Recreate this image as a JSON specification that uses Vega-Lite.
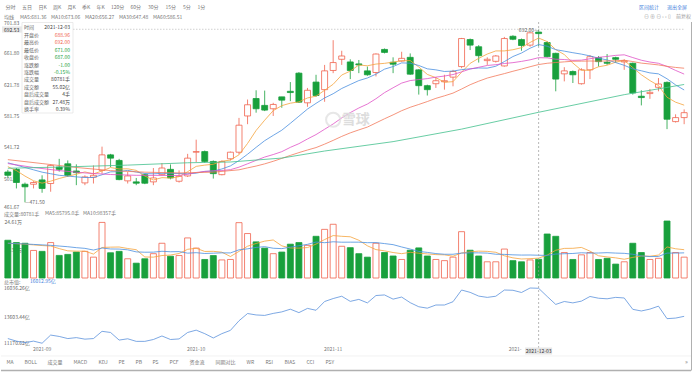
{
"$schema": "https://vega.github.io/schema/vega-lite/v6.json",
"background": "white",
"padding": 0,
"bounds": "flush",
"spacing": 0,
"config": {
  "view": {"stroke": null},
  "font": "Noto Sans CJK SC",
  "axis": {"labelFont": "Noto Sans CJK SC", "labelFontSize": 5, "labelColor": "#666666", "ticks": false, "tickSize": 0, "domain": false, "grid": false, "title": null, "labelOverlap": false},
  "legend": {"labelFont": "Noto Sans CJK SC", "titleFont": "Noto Sans CJK SC", "labelFontSize": 5, "titleFontSize": 5, "titleFontWeight": "normal", "titleColor": "#777777", "labelColor": "#777777", "padding": 0, "symbolSize": 0, "symbolStrokeWidth": 0, "symbolOpacity": 0, "labelOffset": -5.5, "orient": "none", "direction": "horizontal", "columns": 20, "rowPadding": 0, "titleOrient": "left", "titlePadding": 5, "gridAlign": "each"}
},
"resolve": {"scale": {"color": "independent"}, "legend": {"color": "independent"}},
"datasets": {
"one": [{}],
"pticks": [{"p":461.67},{"p":501.7},{"p":541.72},{"p":581.75},{"p":621.78},{"p":661.8},{"p":701.83}],
"cticks": [{"p":11170.62,"t":"11170.62亿"},{"p":13603.44,"t":"13603.44亿"},{"p":16036.26,"t":"16036.26亿"}],
"k": [
{"d":"2021-08-30","o":510.2,"h":513.0,"l":503.0,"c":506.0,"v":163000,"cap":11794.4},
{"d":"2021-08-31","o":513.6,"h":515.3,"l":489.2,"c":496.8,"v":153000,"cap":11579.9},
{"d":"2021-09-01","o":494.6,"h":496.7,"l":471.5,"c":491.3,"v":150000,"cap":11451.7},
{"d":"2021-09-02","o":494.6,"h":498.4,"l":489.2,"c":496.8,"v":119000,"cap":11579.9},
{"d":"2021-09-03","o":500.1,"h":506.0,"l":483.7,"c":489.2,"v":115000,"cap":11402.8},
{"d":"2021-09-06","o":495.5,"h":519.5,"l":485.0,"c":518.6,"v":153000,"cap":12088.0},
{"d":"2021-09-07","o":516.5,"h":527.0,"l":510.7,"c":513.6,"v":97500,"cap":11971.5},
{"d":"2021-09-08","o":520.7,"h":525.0,"l":503.9,"c":506.0,"v":102000,"cap":11794.4},
{"d":"2021-09-09","o":511.5,"h":520.0,"l":493.4,"c":509.4,"v":112000,"cap":11873.6},
{"d":"2021-09-10","o":496.3,"h":506.0,"l":493.4,"c":503.9,"v":115000,"cap":11745.4},
{"d":"2021-09-13","o":503.5,"h":518.6,"l":495.5,"c":506.0,"v":90000,"cap":11794.4},
{"d":"2021-09-14","o":512.3,"h":542.6,"l":508.1,"c":532.1,"v":240000,"cap":12402.7},
{"d":"2021-09-15","o":532.1,"h":533.4,"l":516.5,"c":527.9,"v":109000,"cap":12304.8},
{"d":"2021-09-16","o":525.0,"h":527.0,"l":499.7,"c":500.5,"v":115000,"cap":11666.2},
{"d":"2021-09-17","o":498.9,"h":510.2,"l":495.5,"c":505.2,"v":83000,"cap":11775.7},
{"d":"2021-09-22","o":497.6,"h":502.6,"l":493.4,"c":495.9,"v":64000,"cap":11558.9},
{"d":"2021-09-23","o":506.8,"h":508.1,"l":494.7,"c":495.9,"v":83000,"cap":11558.9},
{"d":"2021-09-24","o":497.6,"h":515.3,"l":493.4,"c":502.6,"v":105000,"cap":11715.1},
{"d":"2021-09-27","o":506.8,"h":521.6,"l":506.0,"c":515.3,"v":150000,"cap":12011.1},
{"d":"2021-09-28","o":513.6,"h":519.9,"l":500.9,"c":502.6,"v":94000,"cap":11715.1},
{"d":"2021-09-29","o":498.4,"h":512.3,"l":496.7,"c":504.7,"v":97000,"cap":11764.1},
{"d":"2021-09-30","o":505.2,"h":533.4,"l":503.9,"c":527.9,"v":173000,"cap":12304.8},
{"d":"2021-10-08","o":535.5,"h":551.5,"l":522.9,"c":536.3,"v":129000,"cap":12500.6},
{"d":"2021-10-11","o":536.3,"h":537.6,"l":522.0,"c":523.7,"v":80000,"cap":12206.9},
{"d":"2021-10-12","o":523.7,"h":525.0,"l":501.8,"c":508.1,"v":97000,"cap":11843.3},
{"d":"2021-10-13","o":506.8,"h":525.0,"l":506.0,"c":523.7,"v":78000,"cap":12206.9},
{"d":"2021-10-14","o":527.1,"h":536.3,"l":525.0,"c":535.5,"v":80000,"cap":12482.0},
{"d":"2021-10-15","o":535.5,"h":579.3,"l":533.0,"c":570.0,"v":239000,"cap":13286.1},
{"d":"2021-10-18","o":581.8,"h":602.8,"l":571.3,"c":596.1,"v":192000,"cap":13894.5},
{"d":"2021-10-19","o":604.1,"h":614.6,"l":586.0,"c":591.0,"v":156000,"cap":13775.6},
{"d":"2021-10-20","o":595.3,"h":614.2,"l":588.0,"c":589.3,"v":129000,"cap":13736.0},
{"d":"2021-10-21","o":591.0,"h":598.6,"l":581.8,"c":596.5,"v":105000,"cap":13903.8},
{"d":"2021-10-22","o":606.2,"h":606.2,"l":592.3,"c":602.0,"v":112000,"cap":14032.0},
{"d":"2021-10-25","o":613.3,"h":625.1,"l":600.7,"c":611.7,"v":146000,"cap":14258.1},
{"d":"2021-10-26","o":636.5,"h":637.8,"l":598.6,"c":599.4,"v":153000,"cap":13971.4},
{"d":"2021-10-27","o":598.6,"h":617.6,"l":593.5,"c":614.6,"v":141000,"cap":14325.7},
{"d":"2021-10-28","o":625.1,"h":634.4,"l":606.2,"c":607.9,"v":180000,"cap":14169.5},
{"d":"2021-10-29","o":615.4,"h":647.0,"l":599.9,"c":639.4,"v":210000,"cap":14903.8},
{"d":"2021-11-01","o":639.9,"h":678.6,"l":636.5,"c":650.0,"v":232000,"cap":15150.9},
{"d":"2021-11-02","o":654.2,"h":665.1,"l":647.0,"c":658.4,"v":137000,"cap":15346.6},
{"d":"2021-11-03","o":650.8,"h":654.2,"l":628.9,"c":639.9,"v":131000,"cap":14915.4},
{"d":"2021-11-04","o":648.3,"h":653.3,"l":636.5,"c":647.0,"v":105000,"cap":15080.9},
{"d":"2021-11-05","o":639.4,"h":644.9,"l":633.1,"c":634.4,"v":90000,"cap":14787.2},
{"d":"2021-11-08","o":637.3,"h":661.7,"l":632.3,"c":660.9,"v":150000,"cap":15404.9},
{"d":"2021-11-09","o":666.8,"h":668.0,"l":661.7,"c":663.0,"v":110000,"cap":15453.9},
{"d":"2021-11-10","o":650.4,"h":656.7,"l":636.5,"c":647.9,"v":95000,"cap":15101.9},
{"d":"2021-11-11","o":652.0,"h":663.8,"l":651.2,"c":655.4,"v":80000,"cap":15276.7},
{"d":"2021-11-12","o":656.7,"h":661.7,"l":634.4,"c":635.2,"v":120000,"cap":14805.9},
{"d":"2021-11-15","o":640.7,"h":641.5,"l":609.1,"c":620.5,"v":130000,"cap":14463.2},
{"d":"2021-11-16","o":620.5,"h":621.8,"l":607.9,"c":615.4,"v":95000,"cap":14344.4},
{"d":"2021-11-17","o":623.0,"h":631.4,"l":617.6,"c":626.8,"v":80000,"cap":14610.1},
{"d":"2021-11-18","o":625.5,"h":634.4,"l":615.4,"c":626.8,"v":75000,"cap":14610.1},
{"d":"2021-11-19","o":631.4,"h":640.7,"l":619.7,"c":638.6,"v":90000,"cap":14885.1},
{"d":"2021-11-22","o":644.9,"h":681.5,"l":642.8,"c":680.7,"v":200000,"cap":15866.4},
{"d":"2021-11-23","o":679.4,"h":680.7,"l":666.0,"c":672.3,"v":120000,"cap":15670.7},
{"d":"2021-11-24","o":670.2,"h":672.3,"l":650.0,"c":658.8,"v":95000,"cap":15356.0},
{"d":"2021-11-25","o":652.5,"h":656.7,"l":647.0,"c":654.2,"v":70000,"cap":15248.7},
{"d":"2021-11-26","o":651.6,"h":659.6,"l":650.0,"c":658.4,"v":70000,"cap":15346.6},
{"d":"2021-11-29","o":645.7,"h":682.8,"l":644.9,"c":680.7,"v":125000,"cap":15866.4},
{"d":"2021-11-30","o":683.6,"h":684.9,"l":678.6,"c":679.8,"v":75000,"cap":15845.5},
{"d":"2021-12-01","o":679.4,"h":680.7,"l":665.1,"c":671.8,"v":70000,"cap":15659.0},
{"d":"2021-12-02","o":672.3,"h":688.5,"l":670.2,"c":688.0,"v":78000,"cap":16036.3},
{"d":"2021-12-03","o":688.96,"h":692.0,"l":671.0,"c":687.0,"v":80781,"cap":16012.95},
{"d":"2021-12-06","o":675.6,"h":677.3,"l":656.7,"c":657.5,"v":190000,"cap":15325.7},
{"d":"2021-12-07","o":661.8,"h":662.6,"l":613.3,"c":628.9,"v":180000,"cap":14659.0},
{"d":"2021-12-08","o":635.6,"h":644.1,"l":626.0,"c":639.4,"v":110000,"cap":14903.8},
{"d":"2021-12-09","o":638.6,"h":639.9,"l":623.9,"c":634.4,"v":80000,"cap":14787.2},
{"d":"2021-12-10","o":623.0,"h":642.8,"l":621.8,"c":640.7,"v":100000,"cap":14934.1},
{"d":"2021-12-13","o":640.7,"h":659.6,"l":628.9,"c":657.5,"v":110000,"cap":15325.7},
{"d":"2021-12-14","o":656.3,"h":658.4,"l":644.9,"c":651.2,"v":80000,"cap":15178.8},
{"d":"2021-12-15","o":650.4,"h":660.9,"l":647.0,"c":649.1,"v":85000,"cap":15129.9},
{"d":"2021-12-16","o":656.3,"h":657.5,"l":650.0,"c":654.2,"v":60000,"cap":15248.7},
{"d":"2021-12-17","o":650.8,"h":654.2,"l":640.7,"c":652.1,"v":70000,"cap":15199.8},
{"d":"2021-12-20","o":649.1,"h":650.0,"l":609.1,"c":611.2,"v":150000,"cap":14246.5},
{"d":"2021-12-21","o":607.0,"h":614.6,"l":595.3,"c":605.3,"v":110000,"cap":14109.0},
{"d":"2021-12-22","o":610.4,"h":616.3,"l":603.7,"c":612.0,"v":80000,"cap":14265.1},
{"d":"2021-12-23","o":618.4,"h":630.2,"l":613.3,"c":622.6,"v":85000,"cap":14512.2},
{"d":"2021-12-24","o":624.7,"h":625.9,"l":565.0,"c":577.6,"v":246100,"cap":13463.3},
{"d":"2021-12-27","o":574.6,"h":583.9,"l":573.4,"c":579.7,"v":110000,"cap":13512.2},
{"d":"2021-12-28","o":579.7,"h":590.2,"l":571.3,"c":586.0,"v":90000,"cap":13659.1}
],
"ma": [
{"d":"2021-08-30","MA5":517,"MA10":522,"MA20":521,"MA30":526,"MA60":515},
{"d":"2021-08-31","MA5":512,"MA10":519},
{"d":"2021-09-01","MA5":505,"MA10":516},
{"d":"2021-09-02","MA5":499,"MA10":513,"MA20":516},
{"d":"2021-09-03","MA5":496.0,"MA10":510,"MA30":521},
{"d":"2021-09-06","MA5":498.5,"MA10":508},
{"d":"2021-09-07","MA5":501.9,"MA10":506,"MA20":512,"MA60":516.5},
{"d":"2021-09-08","MA5":504.8,"MA10":505},
{"d":"2021-09-09","MA5":507.4,"MA10":504,"MA30":516},
{"d":"2021-09-10","MA5":510.3,"MA10":503.2,"MA20":509},
{"d":"2021-09-13","MA5":507.8,"MA10":503.2},
{"d":"2021-09-14","MA5":511.5,"MA10":506.7},
{"d":"2021-09-15","MA5":515.9,"MA10":510.4,"MA20":507,"MA30":512},
{"d":"2021-09-16","MA5":514.1,"MA10":510.7},
{"d":"2021-09-17","MA5":514.3,"MA10":512.3,"MA60":519},
{"d":"2021-09-22","MA5":512.3,"MA10":510.1,"MA20":506},
{"d":"2021-09-23","MA5":505.1,"MA10":508.3,"MA30":510},
{"d":"2021-09-24","MA5":500.0,"MA10":507.9},
{"d":"2021-09-27","MA5":503.0,"MA10":508.5},
{"d":"2021-09-28","MA5":502.5,"MA10":508.4,"MA20":505.8},
{"d":"2021-09-29","MA5":504.2,"MA10":508.3,"MA20":505.8,"MA30":509},
{"d":"2021-09-30","MA5":510.6,"MA10":507.9,"MA20":507.3,"MA60":522},
{"d":"2021-10-08","MA5":517.4,"MA10":508.7,"MA20":509.6},
{"d":"2021-10-11","MA5":519.0,"MA10":511.0,"MA20":510.9},
{"d":"2021-10-12","MA5":520.1,"MA10":511.3,"MA20":511.8,"MA30":510},
{"d":"2021-10-13","MA5":523.9,"MA10":514.1,"MA20":512.1},
{"d":"2021-10-14","MA5":525.5,"MA10":518.0,"MA20":513.2,"MA60":523},
{"d":"2021-10-15","MA5":532.2,"MA10":524.8,"MA20":516.4,"MA30":513},
{"d":"2021-10-18","MA5":546.7,"MA10":532.9,"MA20":520.7,"MA30":515.5},
{"d":"2021-10-19","MA5":563.3,"MA10":541.7,"MA20":525.1,"MA30":517.8},
{"d":"2021-10-20","MA5":576.4,"MA10":550.2,"MA20":529.3,"MA30":520.6},
{"d":"2021-10-21","MA5":588.6,"MA10":557.0,"MA20":532.5,"MA30":523.9},
{"d":"2021-10-22","MA5":595.0,"MA10":563.6,"MA20":536.2,"MA30":527.6,"MA60":528},
{"d":"2021-10-25","MA5":598.1,"MA10":572.4,"MA20":541.7,"MA30":531.4},
{"d":"2021-10-26","MA5":599.8,"MA10":581.5,"MA20":546.4,"MA30":535.0},
{"d":"2021-10-27","MA5":604.8,"MA10":590.6,"MA20":552.4,"MA30":538.3},
{"d":"2021-10-28","MA5":607.1,"MA10":597.9,"MA20":558.0,"MA30":541.4},
{"d":"2021-10-29","MA5":614.6,"MA10":604.8,"MA20":564.8,"MA30":545.8,"MA60":537},
{"d":"2021-11-01","MA5":622.3,"MA10":610.2,"MA20":571.6,"MA30":550.6},
{"d":"2021-11-02","MA5":634.1,"MA10":616.9,"MA20":579.3,"MA30":555.7},
{"d":"2021-11-03","MA5":639.1,"MA10":622.0,"MA20":586.1,"MA30":560.2},
{"d":"2021-11-04","MA5":646.9,"MA10":627.0,"MA20":592.0,"MA30":564.0},
{"d":"2021-11-05","MA5":645.9,"MA10":630.3,"MA20":597.0,"MA30":567.6},
{"d":"2021-11-08","MA5":648.1,"MA10":635.2,"MA20":603.8,"MA30":572.9},
{"d":"2021-11-09","MA5":649.0,"MA10":641.6,"MA20":611.6,"MA30":578.2},
{"d":"2021-11-10","MA5":650.6,"MA10":644.9,"MA20":617.8,"MA30":583.2,"MA60":549},
{"d":"2021-11-11","MA5":652.3,"MA10":649.6,"MA20":623.8,"MA30":588.5},
{"d":"2021-11-12","MA5":652.5,"MA10":649.2,"MA20":627.0,"MA30":592.9},
{"d":"2021-11-15","MA5":644.4,"MA10":646.3,"MA20":628.3,"MA30":596.5},
{"d":"2021-11-16","MA5":634.9,"MA10":642.0,"MA20":629.5,"MA30":600.2},
{"d":"2021-11-17","MA5":630.7,"MA10":640.7,"MA20":631.4,"MA30":604.3},
{"d":"2021-11-18","MA5":624.9,"MA10":638.6,"MA20":632.8,"MA30":607.5},
{"d":"2021-11-19","MA5":625.6,"MA10":639.1,"MA20":634.7,"MA30":611.0},
{"d":"2021-11-22","MA5":637.7,"MA10":641.0,"MA20":638.1,"MA30":616.2,"MA60":565},
{"d":"2021-11-23","MA5":649.0,"MA10":642.0,"MA20":641.8,"MA30":621.7},
{"d":"2021-11-24","MA5":655.4,"MA10":643.1,"MA20":644.0,"MA30":626.2},
{"d":"2021-11-25","MA5":660.9,"MA10":642.9,"MA20":646.3,"MA30":630.2},
{"d":"2021-11-26","MA5":664.9,"MA10":645.3,"MA20":647.3,"MA30":633.1},
{"d":"2021-11-29","MA5":664.9,"MA10":651.3,"MA20":648.8,"MA30":635.9},
{"d":"2021-11-30","MA5":666.4,"MA10":657.7,"MA20":649.9,"MA30":638.9},
{"d":"2021-12-01","MA5":669.0,"MA10":662.2,"MA20":651.5,"MA30":641.7},
{"d":"2021-12-02","MA5":675.7,"MA10":668.3,"MA20":653.5,"MA30":644.7},
{"d":"2021-12-03","MA5":681.36,"MA10":673.06,"MA20":656.27,"MA30":647.48,"MA60":586.51},
{"d":"2021-12-06","MA5":676.8,"MA10":670.9,"MA20":656.0,"MA30":649.1},
{"d":"2021-12-07","MA5":666.6,"MA10":666.5,"MA20":654.3,"MA30":650.1},
{"d":"2021-12-08","MA5":660.2,"MA10":664.6,"MA20":653.9,"MA30":650.9},
{"d":"2021-12-09","MA5":649.4,"MA10":662.6,"MA20":652.8,"MA30":651.7},
{"d":"2021-12-10","MA5":640.2,"MA10":660.8,"MA20":653.1,"MA30":651.8},
{"d":"2021-12-13","MA5":640.2,"MA10":658.5,"MA20":654.9,"MA30":652.0},
{"d":"2021-12-14","MA5":644.6,"MA10":655.6,"MA20":656.7,"MA30":651.8},
{"d":"2021-12-15","MA5":646.6,"MA10":653.4,"MA20":657.8,"MA30":652.1},
{"d":"2021-12-16","MA5":650.5,"MA10":650.0,"MA20":659.2,"MA30":652.3},
{"d":"2021-12-17","MA5":652.8,"MA10":646.5,"MA20":659.9,"MA30":653.0,"MA60":609},
{"d":"2021-12-20","MA5":643.6,"MA10":641.9,"MA20":656.4,"MA30":651.3},
{"d":"2021-12-21","MA5":634.4,"MA10":639.5,"MA20":653.0,"MA30":649.3},
{"d":"2021-12-22","MA5":627.0,"MA10":636.8,"MA20":650.7,"MA30":648.2},
{"d":"2021-12-23","MA5":620.6,"MA10":635.6,"MA20":649.1,"MA30":647.0},
{"d":"2021-12-24","MA5":605.7,"MA10":629.3,"MA20":645.1,"MA30":645.2},
{"d":"2021-12-27","MA5":599.4,"MA10":621.5,"MA20":640.0,"MA30":643.8},
{"d":"2021-12-28","MA5":595.6,"MA10":615.0,"MA20":635.3,"MA30":642.8,"MA60":622}
],
"vma": [
{"d":"2021-08-30","MA5":150000,"MA10":150000},
{"d":"2021-08-31","MA5":148000,"MA10":148500},
{"d":"2021-09-01","MA5":146000,"MA10":147000},
{"d":"2021-09-02","MA5":143000,"MA10":145000},
{"d":"2021-09-03","MA5":140000,"MA10":143000},
{"d":"2021-09-06","MA5":138000,"MA10":141000},
{"d":"2021-09-07","MA5":126900,"MA10":138000},
{"d":"2021-09-08","MA5":117300,"MA10":135000},
{"d":"2021-09-09","MA5":115900,"MA10":131000},
{"d":"2021-09-10","MA5":115900,"MA10":128000},
{"d":"2021-09-13","MA5":103300,"MA10":120700},
{"d":"2021-09-14","MA5":131800,"MA10":129400},
{"d":"2021-09-15","MA5":133200,"MA10":125300},
{"d":"2021-09-16","MA5":133800,"MA10":124900},
{"d":"2021-09-17","MA5":127400,"MA10":121700},
{"d":"2021-09-22","MA5":122200,"MA10":112800},
{"d":"2021-09-23","MA5":90800,"MA10":111300},
{"d":"2021-09-24","MA5":90000,"MA10":111600},
{"d":"2021-09-27","MA5":97000,"MA10":115400},
{"d":"2021-09-28","MA5":99200,"MA10":113300},
{"d":"2021-09-29","MA5":105800,"MA10":114000},
{"d":"2021-09-30","MA5":123800,"MA10":107300},
{"d":"2021-10-08","MA5":128600,"MA10":109300},
{"d":"2021-10-11","MA5":114600,"MA10":105800},
{"d":"2021-10-12","MA5":115200,"MA10":107200},
{"d":"2021-10-13","MA5":111400,"MA10":108600},
{"d":"2021-10-14","MA5":92800,"MA10":108300},
{"d":"2021-10-15","MA5":114800,"MA10":121700},
{"d":"2021-10-18","MA5":137200,"MA10":125900},
{"d":"2021-10-19","MA5":149000,"MA10":132100},
{"d":"2021-10-20","MA5":159200,"MA10":135300},
{"d":"2021-10-21","MA5":164200,"MA10":128500},
{"d":"2021-10-22","MA5":138800,"MA10":126800},
{"d":"2021-10-25","MA5":129600,"MA10":133400},
{"d":"2021-10-26","MA5":129000,"MA10":139000},
{"d":"2021-10-27","MA5":131400,"MA10":145300},
{"d":"2021-10-28","MA5":146400,"MA10":155300},
{"d":"2021-10-29","MA5":166000,"MA10":152400},
{"d":"2021-11-01","MA5":183200,"MA10":156400},
{"d":"2021-11-02","MA5":180000,"MA10":154500},
{"d":"2021-11-03","MA5":178000,"MA10":154700},
{"d":"2021-11-04","MA5":163000,"MA10":154700},
{"d":"2021-11-05","MA5":139000,"MA10":152500},
{"d":"2021-11-08","MA5":122600,"MA10":152900},
{"d":"2021-11-09","MA5":117200,"MA10":148600},
{"d":"2021-11-10","MA5":110000,"MA10":144000},
{"d":"2021-11-11","MA5":105000,"MA10":134000},
{"d":"2021-11-12","MA5":111000,"MA10":125000},
{"d":"2021-11-15","MA5":107000,"MA10":114800},
{"d":"2021-11-16","MA5":104000,"MA10":110600},
{"d":"2021-11-17","MA5":101000,"MA10":105500},
{"d":"2021-11-18","MA5":100000,"MA10":102500},
{"d":"2021-11-19","MA5":94000,"MA10":102500},
{"d":"2021-11-22","MA5":108000,"MA10":107500},
{"d":"2021-11-23","MA5":113000,"MA10":108500},
{"d":"2021-11-24","MA5":116000,"MA10":108500},
{"d":"2021-11-25","MA5":115000,"MA10":107500},
{"d":"2021-11-26","MA5":111000,"MA10":102500},
{"d":"2021-11-29","MA5":96000,"MA10":102000},
{"d":"2021-11-30","MA5":87000,"MA10":100000},
{"d":"2021-12-01","MA5":82000,"MA10":99000},
{"d":"2021-12-02","MA5":83600,"MA10":99300},
{"d":"2021-12-03","MA5":85795,"MA10":98357},
{"d":"2021-12-06","MA5":98800,"MA10":97400},
{"d":"2021-12-07","MA5":119800,"MA10":103400},
{"d":"2021-12-08","MA5":127800,"MA10":104900},
{"d":"2021-12-09","MA5":128200,"MA10":105900},
{"d":"2021-12-10","MA5":132000,"MA10":108900},
{"d":"2021-12-13","MA5":116000,"MA10":107400},
{"d":"2021-12-14","MA5":96000,"MA10":107900},
{"d":"2021-12-15","MA5":91000,"MA10":109400},
{"d":"2021-12-16","MA5":87000,"MA10":107600},
{"d":"2021-12-17","MA5":81000,"MA10":106500},
{"d":"2021-12-20","MA5":89000,"MA10":102500},
{"d":"2021-12-21","MA5":95000,"MA10":95500},
{"d":"2021-12-22","MA5":94000,"MA10":92500},
{"d":"2021-12-23","MA5":99000,"MA10":93000},
{"d":"2021-12-24","MA5":134200,"MA10":107600},
{"d":"2021-12-27","MA5":126200,"MA10":107600},
{"d":"2021-12-28","MA5":122200,"MA10":108600}
],
"tip": [
{"k":"时间","v":"2021-12-03"},{"k":"开盘价","v":"688.96"},{"k":"最高价","v":"692.00"},{"k":"最低价","v":"671.00"},
{"k":"收盘价","v":"687.00"},{"k":"涨跌额","v":"-1.00"},{"k":"涨跌幅","v":"-0.15%"},{"k":"成交量","v":"80781手"},
{"k":"成交额","v":"55.02亿"},{"k":"盘后成交量","v":"4手"},{"k":"盘后成交额","v":"27.48万"},{"k":"换手率","v":"0.39%"}
],
"tabs": [{"t":"分时"},{"t":"五日"},{"t":"日K"},{"t":"周K"},{"t":"月K"},{"t":"季K"},{"t":"年K"},{"t":"120分"},{"t":"60分"},{"t":"30分"},{"t":"15分"},{"t":"5分"},{"t":"1分"}],
"btabs": [{"t":"MA"},{"t":"BOLL"},{"t":"成交量"},{"t":"MACD"},{"t":"KDJ"},{"t":"PE"},{"t":"PB"},{"t":"PS"},{"t":"PCF"},{"t":"资金流"},{"t":"同期对比"},{"t":"WR"},{"t":"RSI"},{"t":"BIAS"},{"t":"CCI"},{"t":"PSY"}],
"links": [{"t":"区间统计"},{"t":"退出全屏"}],
"tools": [{"t":"⊖ ⊕ ⊖ ‹ › ▯"},{"t":"前复权"}]
},
"vconcat": [
{
 "width": 690, "height": 22,
 "layer": [
  {"data": {"name": "tabs"}, "mark": {"type": "point", "opacity": 0},
   "encoding": {"color": {"field": "t", "type": "nominal", "sort": null, "scale": {"range": ["#777777"]},
     "legend": {"title": null, "legendX": 5, "legendY": 4, "columnPadding": 5.5, "symbolSize": 0, "labelOffset": -5.5,
       "encode": {"labels": {"fill": {"signal": "datum.value === '日K' ? '#3f7fdc' : '#777777'"}}}}}}},
  {"data": {"name": "links"}, "mark": {"type": "text", "align": "left", "fontSize": 5, "color": "#3f7fdc", "dy": -4},
   "encoding": {"x": {"field": "t", "type": "nominal", "sort": null, "scale": {"type": "point", "range": [638, 666], "padding": 0}, "axis": null}, "text": {"field": "t"}}},
  {"data": {"name": "tools"}, "mark": {"type": "text", "align": "left", "fontSize": 5, "color": "#999999", "dy": 5},
   "encoding": {"x": {"field": "t", "type": "nominal", "sort": null, "scale": {"type": "point", "range": [643, 675], "padding": 0}, "axis": null}, "text": {"field": "t"}}}
 ],
 "resolve": {"scale": {"x": "independent"}}
},
{
 "width": 690, "height": 188,
 "layer": [
  {
   "layer": [
    {"data": {"name": "pticks"}, "transform": [{"filter": "datum.p > 470 && datum.p < 700"}],
     "mark": {"type": "text", "align": "left", "baseline": "middle", "fontSize": 5, "color": "#666666", "dx": -3.8},
     "encoding": {"x": {"datum": "2021-08-30", "type": "ordinal", "bandPosition": 0.5, "axis": null},
      "y": {"field": "p", "type": "quantitative", "axis": null}, "text": {"field": "p", "type": "quantitative", "format": ".2f"}}},
    {"data": {"name": "pticks"}, "transform": [{"filter": "datum.p > 700"}],
     "mark": {"type": "text", "align": "left", "baseline": "top", "fontSize": 5, "color": "#666666", "dx": -3.8, "dy": -0.8},
     "encoding": {"x": {"datum": "2021-08-30", "type": "ordinal", "bandPosition": 0.5, "axis": null},
      "y": {"field": "p", "type": "quantitative", "axis": null}, "text": {"field": "p", "type": "quantitative", "format": ".2f"}}},
    {"data": {"name": "pticks"}, "transform": [{"filter": "datum.p < 470"}],
     "mark": {"type": "text", "align": "left", "baseline": "bottom", "fontSize": 5, "color": "#666666", "dx": -3.8},
     "encoding": {"x": {"datum": "2021-08-30", "type": "ordinal", "bandPosition": 0.5, "axis": null},
      "y": {"field": "p", "type": "quantitative", "axis": null}, "text": {"field": "p", "type": "quantitative", "format": ".2f"}}},
    {"data": {"name": "k"}, "mark": {"type": "rule", "strokeWidth": 0.8},
     "encoding": {
      "x": {"field": "d", "type": "ordinal", "bandPosition": 0.5, "scale": {"paddingInner": 0.3, "paddingOuter": 0.45}, "axis": null},
      "y": {"field": "l", "type": "quantitative", "scale": {"domain": [461.67, 701.83], "nice": false, "zero": false}, "axis": null},
      "y2": {"field": "h"},
      "color": {"condition": {"test": "datum.c >= datum.o", "value": "#f0624d"}, "value": "#18a03c"}}},
    {"data": {"name": "k"}, "mark": {"type": "bar", "strokeWidth": 0.8},
     "encoding": {
      "x": {"field": "d", "type": "ordinal", "axis": null},
      "y": {"field": "o", "type": "quantitative", "axis": null},
      "y2": {"field": "c"},
      "fill": {"condition": {"test": "datum.c >= datum.o", "value": "#ffffff"}, "value": "#18a03c"},
      "stroke": {"condition": {"test": "datum.c >= datum.o", "value": "#f0624d"}, "value": "#18a03c"}}},
    {"data": {"name": "ma"},
     "transform": [{"fold": ["MA5", "MA10", "MA20", "MA30", "MA60"], "as": ["s", "m"]}, {"filter": "isValid(datum.m)"}],
     "mark": {"type": "line", "strokeWidth": 0.8},
     "encoding": {
      "x": {"field": "d", "type": "ordinal", "bandPosition": 0.5, "axis": null},
      "y": {"field": "m", "type": "quantitative", "axis": null},
      "color": {"field": "s", "type": "nominal",
        "scale": {"domain": ["MA5", "MA10", "MA20", "MA30", "MA60"], "range": ["#f5a33c", "#4a8fe0", "#e052c6", "#f2785a", "#43c08d"]},
        "legend": {"title": "均线", "legendX": 3, "legendY": -8, "columnPadding": 4, "symbolSize": 0, "labelOffset": -5,
          "labelExpr": "datum.label == 'MA5' ? 'MA5:681.36' : datum.label == 'MA10' ? 'MA10:673.06' : datum.label == 'MA20' ? 'MA20:656.27' : datum.label == 'MA30' ? 'MA30:647.48' : 'MA60:586.51'",
          "encode": {"labels": {"fill": {"signal": "datum.value == 'MA5' ? '#f5a33c' : datum.value == 'MA10' ? '#4a8fe0' : datum.value == 'MA20' ? '#e052c6' : datum.value == 'MA30' ? '#f2785a' : '#43c08d'"}}}}}}},
    {"data": {"name": "one"}, "mark": {"type": "rule", "strokeDash": [2, 2], "color": "#999999", "strokeWidth": 0.7},
     "encoding": {"x": {"datum": "2021-12-03", "type": "ordinal", "bandPosition": 0.5, "axis": null}}},
    {"data": {"name": "one"}, "mark": {"type": "rule", "strokeDash": [1, 2], "color": "#999999", "strokeWidth": 0.7},
     "encoding": {"y": {"datum": 692.53, "type": "quantitative", "axis": null}, "x": {"datum": "2021-09-09", "type": "ordinal", "bandPosition": 0, "axis": null}, "x2": {"datum": "2021-12-28"}}},
    {"data": {"name": "one"}, "mark": {"type": "text", "align": "right", "fontSize": 5, "color": "#666666"},
     "encoding": {"x": {"datum": "2021-12-03", "type": "ordinal", "bandPosition": 0.5, "axis": null}, "y": {"datum": 692, "type": "quantitative", "axis": null}, "text": {"value": "692.00—"}}},
    {"data": {"name": "one"}, "mark": {"type": "text", "align": "left", "fontSize": 5, "color": "#666666"},
     "encoding": {"x": {"datum": "2021-09-01", "type": "ordinal", "bandPosition": 0.5, "axis": null}, "y": {"datum": 471.5, "type": "quantitative", "axis": null}, "text": {"value": "—471.50"}}},
    {"data": {"name": "one"}, "mark": {"type": "point", "filled": false, "color": "#dddddd", "strokeWidth": 2, "size": 200},
     "encoding": {"x": {"datum": "2021-11-01", "type": "ordinal", "bandPosition": 0.5, "axis": null}, "y": {"datum": 577, "type": "quantitative", "axis": null}}},
    {"data": {"name": "one"}, "mark": {"type": "text", "align": "left", "fontSize": 14, "fontWeight": "bold", "color": "#dddddd"},
     "encoding": {"x": {"datum": "2021-11-02", "type": "ordinal", "bandPosition": 0.5, "axis": null}, "y": {"datum": 577, "type": "quantitative", "axis": null}, "text": {"value": "雪球"}}}
   ]
  },
  {
   "data": {"name": "one"},
   "mark": {"type": "rect", "fill": "#ffffff", "fillOpacity": 0.85, "stroke": "#e2e2e2", "strokeWidth": 0.7},
   "encoding": {
    "x": {"datum": "a", "type": "nominal", "scale": {"type": "point", "domain": ["a", "b"], "range": [21, 72], "padding": 0}, "axis": null},
    "x2": {"datum": "b"},
    "y": {"datum": "t", "type": "nominal", "scale": {"type": "point", "domain": ["t", "b"], "range": [0.5, 91], "padding": 0}, "axis": null},
    "y2": {"datum": "b"}}
  },
  {
   "data": {"name": "tip"},
   "layer": [
    {"mark": {"type": "text", "align": "left", "fontSize": 5, "color": "#666666", "dx": 2},
     "encoding": {
      "x": {"datum": "a", "type": "nominal", "scale": {"type": "point", "domain": ["a", "b"], "range": [21, 72], "padding": 0}, "axis": null},
      "y": {"field": "k", "type": "nominal", "sort": null, "scale": {"type": "point", "range": [5.3, 87.3], "padding": 0}, "axis": null},
      "text": {"field": "k"}}},
    {"mark": {"type": "text", "align": "right", "fontSize": 5, "dx": -3},
     "encoding": {
      "x": {"datum": "b", "type": "nominal", "axis": null},
      "y": {"field": "k", "type": "nominal", "sort": null, "axis": null},
      "text": {"field": "v"},
      "color": {"condition": [
         {"test": "datum.k === '开盘价' || datum.k === '最高价'", "value": "#f0624d"},
         {"test": "datum.k === '最低价' || datum.k === '收盘价' || datum.k === '涨跌额' || datum.k === '涨跌幅'", "value": "#18a03c"}],
       "value": "#444444"}}}
   ]
  },
  {
   "data": {"name": "one"},
   "layer": [
    {"mark": {"type": "rect", "fill": "#e8e8e8"},
     "encoding": {
      "x": {"datum": "a", "type": "nominal", "scale": {"type": "point", "domain": ["a", "b"], "range": [1, 21], "padding": 0}, "axis": null},
      "x2": {"datum": "b"},
      "y": {"datum": "t", "type": "nominal", "scale": {"type": "point", "domain": ["t", "m", "b"], "range": [4.4, 10.6], "padding": 0}, "axis": null},
      "y2": {"datum": "b"}}},
    {"mark": {"type": "text", "align": "left", "fontSize": 5, "color": "#333333", "dx": 2},
     "encoding": {"x": {"datum": "a", "type": "nominal", "axis": null}, "y": {"datum": "m", "type": "nominal", "axis": null}, "text": {"value": "692.53"}}}
   ]
  },
  {"data": {"name": "one"}, "mark": {"type": "rule", "color": "#b0b0b0", "strokeWidth": 1},
   "encoding": {"x": {"datum": "r", "type": "nominal", "scale": {"type": "point", "domain": ["l", "r"], "range": [0, 690.5], "padding": 0}, "axis": null}}}
 ],
 "resolve": {"scale": {"x": "independent", "y": "independent"}}
},
{
 "width": 690, "height": 68,
 "layer": [
  {"layer": [
   {"data": {"name": "k"}, "mark": {"type": "bar", "strokeWidth": 0.8},
    "encoding": {
     "x": {"field": "d", "type": "ordinal", "scale": {"paddingInner": 0.3, "paddingOuter": 0.45}, "axis": null},
     "y": {"field": "v", "type": "quantitative", "scale": {"domain": [0, 293600], "nice": false},
           "axis": {"orient": "left", "values": [123050, 246100], "labelExpr": "datum.value > 200000 ? '24.61万' : '12.31万'", "labelAlign": "left", "labelPadding": -3, "labelOverlap": false}},
     "fill": {"condition": {"test": "datum.c >= datum.o", "value": "#ffffff"}, "value": "#18a03c"},
     "stroke": {"condition": {"test": "datum.c >= datum.o", "value": "#f0624d"}, "value": "#18a03c"}}},
   {"data": {"name": "vma"},
    "transform": [{"fold": ["MA5", "MA10"], "as": ["s", "m"]}, {"filter": "isValid(datum.m)"}],
    "mark": {"type": "line", "strokeWidth": 0.8},
    "encoding": {
     "x": {"field": "d", "type": "ordinal", "bandPosition": 0.5},
     "y": {"field": "m", "type": "quantitative"},
     "color": {"field": "s", "type": "nominal", "scale": {"domain": ["MA5", "MA10"], "range": ["#f5a33c", "#4a8fe0"]},
       "legend": {"title": "成交量:80781手", "legendX": 3, "legendY": 0.5, "columnPadding": 3, "symbolSize": 0, "labelOffset": -5,
         "labelExpr": "datum.label == 'MA5' ? 'MA5:85795.0手' : 'MA10:98357手'",
         "encode": {"labels": {"fill": {"signal": "datum.value == 'MA5' ? '#f5a33c' : '#4a8fe0'"}}}}}}},
   {"data": {"name": "one"}, "mark": {"type": "rule", "strokeDash": [2, 2], "color": "#999999", "strokeWidth": 0.7},
    "encoding": {"x": {"datum": "2021-12-03", "type": "ordinal", "bandPosition": 0.5}}}
  ]},
  {"data": {"name": "one"}, "mark": {"type": "rule", "color": "#b0b0b0", "strokeWidth": 1},
   "encoding": {"x": {"datum": "r", "type": "nominal", "scale": {"type": "point", "domain": ["l", "r"], "range": [0, 690.5], "padding": 0}, "axis": null}}}
 ],
 "resolve": {"scale": {"x": "independent"}}
},
{
 "width": 690, "height": 68,
 "layer": [
  {"layer": [
   {"data": {"name": "cticks"}, "transform": [{"filter": "datum.p > 12000"}],
    "mark": {"type": "text", "align": "left", "baseline": "middle", "fontSize": 5, "color": "#666666", "dx": -3.8},
    "encoding": {"x": {"datum": "2021-08-30", "type": "ordinal", "bandPosition": 0.5},
     "y": {"field": "p", "type": "quantitative", "axis": null}, "text": {"field": "t"}}},
   {"data": {"name": "cticks"}, "transform": [{"filter": "datum.p < 12000"}],
    "mark": {"type": "text", "align": "left", "baseline": "bottom", "fontSize": 5, "color": "#666666", "dx": -3.8},
    "encoding": {"x": {"datum": "2021-08-30", "type": "ordinal", "bandPosition": 0.5},
     "y": {"field": "p", "type": "quantitative", "axis": null}, "text": {"field": "t"}}},
   {"data": {"name": "k"}, "mark": {"type": "line", "strokeWidth": 0.8},
    "encoding": {
     "x": {"field": "d", "type": "ordinal", "bandPosition": 0.5, "scale": {"paddingInner": 0.3, "paddingOuter": 0.45},
           "axis": {"orient": "bottom", "values": ["2021-09-03", "2021-10-08", "2021-11-01", "2021-12-01"],
                    "labelExpr": "datum.value == '2021-12-01' ? '2021-' : substring(datum.value, 0, 7)",
                    "labelAlign": {"condition": {"test": "datum.value == '2021-12-01'", "value": "right"}, "value": "center"},
                    "labelPadding": 2, "labelAngle": 0, "labelColor": "#777777", "labelOverlap": false}},
     "y": {"field": "cap", "type": "quantitative", "scale": {"domain": [11170.62, 16875.2], "nice": false, "zero": false}, "axis": null},
     "color": {"datum": "总市值", "scale": {"range": ["#5c92dc"]},
       "legend": {"title": "总市值:", "legendX": 3, "legendY": 0.5, "titlePadding": 9, "symbolSize": 0, "labelOffset": -5, "labelExpr": "'16012.95亿'", "labelColor": "#3f7fdc"}}}},
   {"data": {"name": "one"}, "mark": {"type": "rule", "strokeDash": [2, 2], "color": "#999999", "strokeWidth": 0.7, "clip": false},
    "encoding": {"x": {"datum": "2021-12-03", "type": "ordinal", "bandPosition": 0.5}, "y": {"datum": 16875.2, "type": "quantitative", "axis": null}, "y2": {"datum": 10900}}},
   {"data": {"name": "one"}, "mark": {"type": "bar", "width": 27, "color": "#e6e6e6", "clip": false},
    "encoding": {"x": {"datum": "2021-12-03", "type": "ordinal"}, "y": {"datum": 11045, "type": "quantitative", "axis": null}, "y2": {"datum": 10457}}},
   {"data": {"name": "one"}, "mark": {"type": "text", "fontSize": 5, "color": "#333333", "clip": false},
    "encoding": {"x": {"datum": "2021-12-03", "type": "ordinal", "bandPosition": 0.5}, "y": {"datum": 10751, "type": "quantitative", "axis": null}, "text": {"value": "2021-12-03"}}}
  ]},
  {"data": {"name": "one"}, "mark": {"type": "rule", "color": "#b0b0b0", "strokeWidth": 1},
   "encoding": {"x": {"datum": "r", "type": "nominal", "scale": {"type": "point", "domain": ["l", "r"], "range": [0, 690.5], "padding": 0}, "axis": null}}}
 ],
 "resolve": {"scale": {"x": "independent"}}
},
{
 "width": 690, "height": 26,
 "layer": [
  {"data": {"name": "btabs"}, "mark": {"type": "point", "opacity": 0},
   "encoding": {"color": {"field": "t", "type": "nominal", "sort": null, "scale": {"range": ["#777777"]},
     "legend": {"title": null, "legendX": 6, "legendY": 13, "columnPadding": 10, "symbolSize": 0, "labelOffset": -5.5,
       "encode": {"labels": {"fill": {"signal": "datum.value === '成交量' ? '#3f7fdc' : '#777777'"}}}}}}},
  {"data": {"values": [{"t": "»"}]}, "mark": {"type": "text", "fontSize": 6, "color": "#888888", "dy": 3},
   "encoding": {"x": {"field": "t", "type": "nominal", "scale": {"type": "point", "range": [685, 686], "padding": 0}, "axis": null}, "text": {"field": "t"}}},
  {"layer": [
   {"data": {"name": "one"}, "mark": {"type": "rule", "color": "#ececec", "strokeWidth": 0.7},
    "encoding": {"y": {"datum": "s", "type": "nominal", "scale": {"type": "point", "domain": ["s", "b"], "range": [10, 24.5], "padding": 0}, "axis": null}}},
   {"data": {"name": "one"}, "mark": {"type": "rule", "color": "#b0b0b0", "strokeWidth": 1.5},
    "encoding": {"y": {"datum": "b", "type": "nominal", "axis": null}}}
  ]},
  {"data": {"name": "one"}, "mark": {"type": "rule", "color": "#b0b0b0", "strokeWidth": 1},
   "encoding": {"x": {"datum": "r", "type": "nominal", "scale": {"type": "point", "domain": ["l", "r"], "range": [0, 690.5], "padding": 0}, "axis": null},
    "y2": {"datum": "b"}, "y": {"datum": "t", "type": "nominal", "scale": {"type": "point", "domain": ["t", "b"], "range": [0, 24.5], "padding": 0}, "axis": null}}}
 ],
 "resolve": {"scale": {"x": "independent", "y": "independent"}}
}
]
}
